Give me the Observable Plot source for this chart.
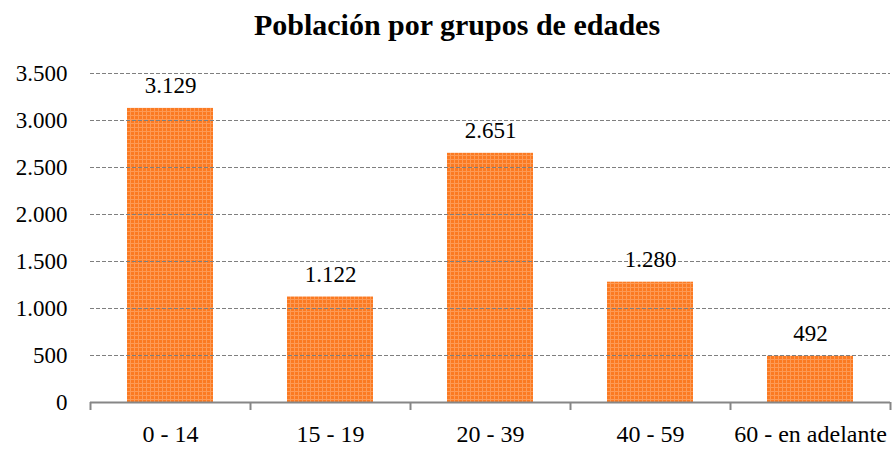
<!DOCTYPE html>
<html>
<head>
<meta charset="utf-8">
<script src="https://cdn.jsdelivr.net/npm/d3@7"></script>
<script src="https://cdn.jsdelivr.net/npm/@observablehq/plot@0.6"></script>
<style>
  body { margin: 0; background: #fff; width: 892px; }
  #title { height: 50px; font-family: "Liberation Serif", "Times New Roman", serif; font-weight: bold; font-size: 30px; line-height: 50px; text-align: center; padding-left: 22px; box-sizing: border-box; width: 892px; color: #000; }
  svg { display: block; }
  #chart svg, #chart svg text { font-family: "Liberation Serif", "Times New Roman", serif !important; }
</style>
</head>
<body>
<div id="title">Población por grupos de edades</div>
<div id="chart"></div>
<script>
const categories = ["0 - 14", "15 - 19", "20 - 39", "40 - 59", "60 - en adelante"];
const values = [3129, 1122, 2651, 1280, 492];
const yTicks = [0, 500, 1000, 1500, 2000, 2500, 3000, 3500];

const data = categories.map((c, i) => ({cat: c, idx: i, value: values[i]}));
const locale = d3.formatLocale({decimal: ",", thousands: ".", grouping: [3], currency: ["", ""]});
const fmt = locale.format(",d");
const bounds = d3.range(categories.length + 1);
const centers = categories.map((c, i) => i + 0.5);
const FF = "Liberation Serif";

const plot = Plot.plot({
  width: 892,
  height: 400,
  marginLeft: 90,
  marginRight: 2,
  marginTop: 23,
  marginBottom: 48,
  style: {fontFamily: FF, fontSize: "23px", color: "#000", background: "#fff"},
  x: {domain: [0, categories.length]},
  y: {domain: [0, 3500]},
  marks: [
    Plot.rectY(data, {x1: "idx", x2: d => d.idx + 1, y: "value", fill: "url(#barpat)", insetLeft: 37, insetRight: 37}),
    Plot.ruleY(yTicks.filter(d => d > 0), {stroke: "#7f7f7f", strokeWidth: 1, strokeDasharray: "4,2"}),
    Plot.ruleY([0], {stroke: "#868686", strokeWidth: 2}),
    Plot.axisY({ticks: yTicks, tickSize: 0, tickPadding: 23, tickFormat: fmt, fontSize: 23, fontFamily: FF, label: null}),
    Plot.axisX({ticks: bounds, tickSize: 8, tickFormat: () => "", stroke: "#868686", strokeWidth: 2, label: null}),
    Plot.axisX({ticks: centers, tickSize: 0, tickPadding: 22, tickFormat: d => categories[Math.round(d - 0.5)], fontSize: 24, fontFamily: FF, label: null}),
    Plot.text(data, {x: d => d.idx + 0.5, y: "value", text: d => fmt(d.value), dy: -15, lineAnchor: "bottom", fontSize: 23, fontFamily: FF, fill: "#000"})
  ]
});

// pattern definition for the textured orange bars
const ns = "http://www.w3.org/2000/svg";
const defs = document.createElementNS(ns, "defs");
defs.innerHTML = `<pattern id="barpat" patternUnits="userSpaceOnUse" width="4" height="4">
  <rect width="4" height="4" fill="#fb7a22"/>
  <rect x="0" y="1" width="4" height="1" fill="#fd9a55"/>
  <rect x="2" y="0" width="1" height="4" fill="#fd9a55"/>
</pattern>`;
plot.insertBefore(defs, plot.firstChild);
document.getElementById("chart").appendChild(plot);
</script>
</body>
</html>
